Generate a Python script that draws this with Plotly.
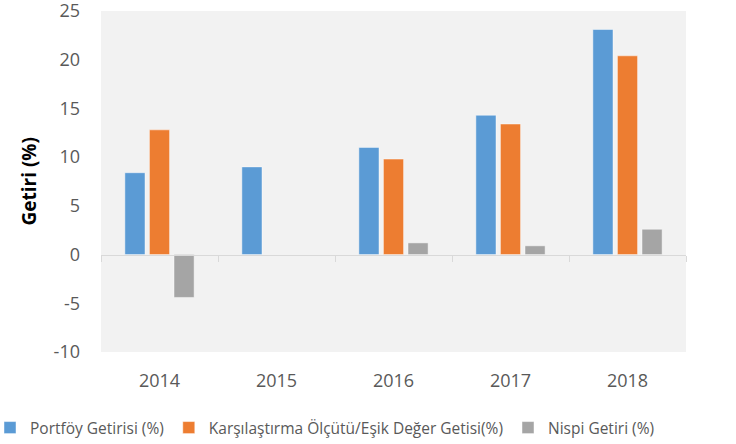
import plotly.graph_objects as go

years = ["2014", "2015", "2016", "2017", "2018"]
portfoy = [8.4, 9.0, 11.0, 14.3, 23.1]
karsilastirma = [12.8, None, 9.8, 13.4, 20.4]
nispi = [-4.4, None, 1.2, 0.9, 2.6]

series_names = [
    "Portföy Getirisi (%)",
    "Karşılaştırma Ölçütü/Eşik Değer Getisi(%)",
    "Nispi Getiri (%)",
]
series_values = [portfoy, karsilastirma, nispi]
series_colors = ["#5B9BD5", "#ED7D31", "#A5A5A5"]
y_ticks = [-10, -5, 0, 5, 10, 15, 20, 25]
y_ticktext = [str(v) for v in y_ticks]

FONT = "Open Sans, Lato, sans-serif"

fig = go.Figure()
for name, vals, col in zip(series_names, series_values, series_colors):
    fig.add_trace(go.Bar(
        x=list(range(len(years))), y=vals, name=name,
        marker=dict(color=col, line=dict(color="rgba(255,255,255,0.45)", width=1)),
    ))

W, H = 736, 444
L, R, T, B = 101, 50, 11, 92
ymin, ymax = -10, 25
zero_pos = (0 - ymin) / (ymax - ymin)
plot_w = W - L - R
plot_h = H - T - B

fig.update_layout(
    width=W, height=H,
    margin=dict(l=L, r=R, t=T, b=B, autoexpand=False),
    paper_bgcolor="white", plot_bgcolor="#F2F2F2",
    barmode="group", bargap=0.37, bargroupgap=0.18,
    font=dict(family=FONT, color="#595959"),
    showlegend=True,
    legend=dict(
        orientation="h", xref="paper", yref="paper",
        x=(-10 - L) / plot_w, xanchor="left",
        y=((H - B) - 428) / plot_h, yanchor="middle",
        font=dict(size=15.5, color="#595959", family=FONT),
        itemwidth=30, tracegroupgap=0, bgcolor="rgba(0,0,0,0)",
    ),
    xaxis=dict(
        range=[-0.5, len(years) - 0.5],
        tickmode="array", tickvals=list(range(len(years))), ticktext=years,
        showgrid=False, zeroline=False, showline=False, ticks="",
        tickfont=dict(size=18, color="#595959", family=FONT),
        ticklabelstandoff=16,
    ),
    xaxis2=dict(
        overlaying="x", anchor="free", position=zero_pos,
        range=[-0.5, len(years) - 0.5],
        tickmode="array", tickvals=[i - 0.5 for i in range(len(years) + 1)],
        showticklabels=False, ticks="outside", ticklen=6, tickcolor="#D9D9D9",
        tickwidth=1, showline=True, linecolor="#D9D9D9", linewidth=1,
        showgrid=False, zeroline=False,
    ),
    yaxis=dict(
        range=[ymin - 0.001, ymax + 0.001], tickmode="array",
        tickvals=y_ticks, ticktext=y_ticktext,
        showgrid=False, zeroline=False, showline=False, ticks="",
        tickfont=dict(size=18, color="#595959", family=FONT),
        ticklabelstandoff=20, ticklabeloverflow="allow",
    ),
    annotations=[dict(
        text="<b>Getiri (%)</b>", xref="paper", yref="paper",
        x=(28 - L) / plot_w, y=0.5, xanchor="center", yanchor="middle",
        textangle=-90, showarrow=False,
        font=dict(size=19, color="#000000", family=FONT),
    )],
)
fig.add_trace(go.Scatter(x=[None], y=[None], xaxis="x2", showlegend=False, hoverinfo="skip"))

fig.write_html("out.html")
